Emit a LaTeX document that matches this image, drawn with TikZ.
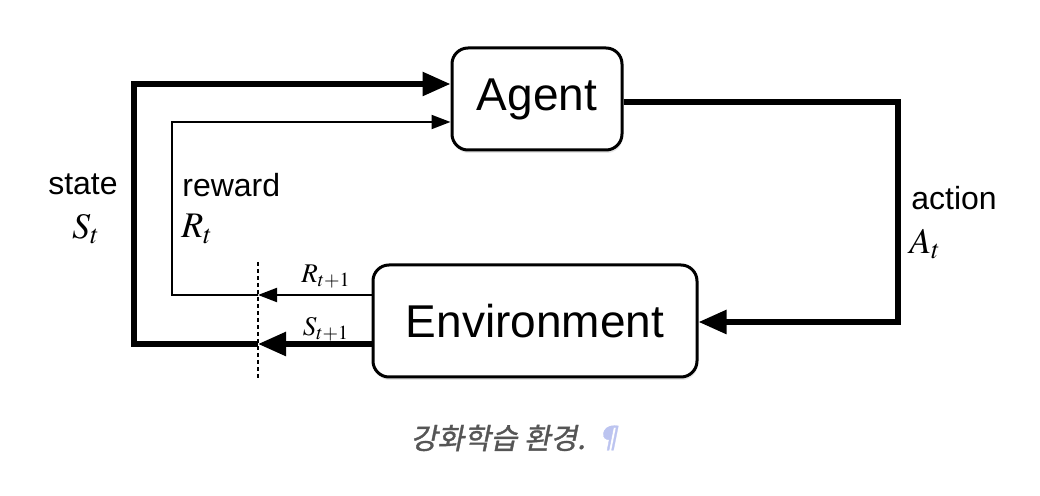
\documentclass[tikz,border=0pt]{standalone}
\usepackage{mathptmx}
\usepackage{fontspec}
\setmainfont{Liberation Sans}
\newfontfamily\krfont[FakeSlant=0.2, FakeBold=1.2]{Noto Sans CJK KR}
\usetikzlibrary{arrows.meta, shadows}
\definecolor{capG}{RGB}{85,85,85}
\definecolor{pilcrow}{RGB}{188,196,240}

\begin{document}
\begin{tikzpicture}[x=0.5pt, y=-0.5pt,
  block/.style={draw, line width=1.5pt, rounded corners=8pt, fill=white,
    drop shadow={opacity=0.2, shadow xshift=0.4pt, shadow yshift=-1.5pt},
    font=\fontsize{23}{27}\selectfont, inner sep=0pt},
  heavy/.style={line width=2.8pt},
  light/.style={line width=1pt},
  bighead/.style={-{Triangle[length=14pt, width=11.5pt]}},
  smallhead/.style={-{Triangle[length=9.5pt, width=7pt]}},
  lbl/.style={font=\fontsize{16}{19}\selectfont, inner sep=0pt},
  mlbl/.style={font=\fontsize{18}{21}\selectfont, inner sep=0pt}]
\useasboundingbox (0,0) rectangle (1040,496);
% the two blocks
\node[block, minimum width=85pt, minimum height=51pt] (agent) at (537,99) {Agent};
\node[block, minimum width=162pt, minimum height=56pt] (env) at (535,321) {Environment};
% loop corners and the time cut
\coordinate (stB) at (134,344);
\coordinate (stT) at (134,84);
\coordinate (rwB) at (172,295);
\coordinate (rwT) at (172,122);
\coordinate (acT) at (898,102);
\coordinate (acB) at (898,322);
\coordinate (cutT) at (258,262);
\coordinate (cutB) at (258,378);
\draw[line width=0.6pt, dash pattern=on 2pt off 1.5pt] (cutT) -- (cutB);
% state path
\draw[heavy, bighead] (env.west |- stB) -- (cutB |- stB);
\draw[heavy, bighead] (cutB |- stB) -- (stB) -- (stT) -- (agent.west |- stT);
% reward path
\draw[light, smallhead] (env.west |- rwB) -- (cutB |- rwB);
\draw[light, smallhead] (cutB |- rwB) -- (rwB) -- (rwT) -- (agent.west |- rwT);
% action path
\draw[heavy, bighead] (agent.east |- acT) -- (acT) -- (acB) -- (env.east |- acB);
% labels
\node[lbl] (stateL) at (83,184) {state};
\node[mlbl] (stateM) at (86,229) {$S_t$};
\node[lbl, anchor=west] (rewL) at (182,185) {reward};
\node[mlbl, anchor=west] (rewM) at (181,229) {$R_t$};
\node[lbl, anchor=west] (actL) at (911,198) {action};
\node[mlbl, anchor=west] (actM) at (909,244) {$A_t$};
\node[lbl, font=\fontsize{13.5}{16}\selectfont] (rnext) at (326,277) {$R_{t+1}$};
\node[lbl, font=\fontsize{13.5}{16}\selectfont] (snext) at (326,329) {$S_{t+1}$};
% caption
\node[inner sep=0pt, font=\krfont\fontsize{14.5}{17}\selectfont, text=capG] (cap) at (498,438) {강화학습 환경.};
\node[inner sep=0pt, anchor=west, font=\krfont\fontsize{15}{17}\selectfont, text=pilcrow] (pil) at ([xshift=3.5pt]cap.east) {¶};
\end{tikzpicture}
\end{document}
